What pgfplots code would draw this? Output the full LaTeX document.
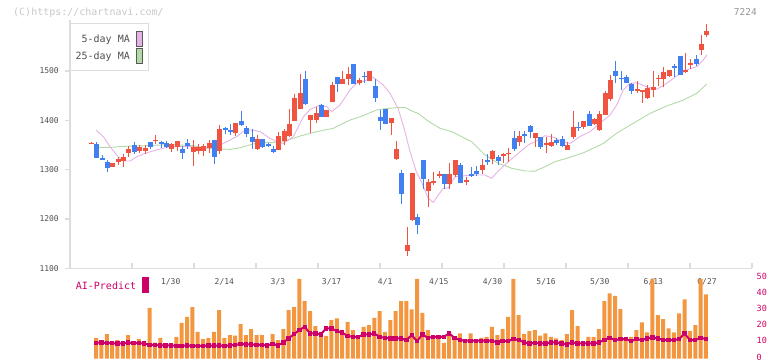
\documentclass[border=0pt]{standalone}
\usepackage{pgfplots}
\pgfplotsset{compat=1.18}
\usepackage{pgfplotstable}
\usepackage{fontspec}
\newfontfamily\mono{DejaVu Sans Mono}
\definecolor{candred}{RGB}{240,84,64}
\definecolor{candblue}{RGB}{64,128,240}
\definecolor{volor}{RGB}{242,150,64}
\definecolor{crim}{RGB}{204,0,102}
\definecolor{ma5}{RGB}{230,178,230}
\definecolor{ma25}{RGB}{178,218,166}
\definecolor{axgray}{RGB}{221,221,221}
\definecolor{txtgray}{RGB}{80,80,80}
\definecolor{hdrgray}{RGB}{200,200,200}
\definecolor{codegray}{RGB}{150,150,150}

\pgfplotstableread{
k o h l c
0 1352 1355 1351 1354
4 1306 1314 1305 1313
5 1316 1326 1309 1322
6 1318 1331 1306 1326
7 1334 1347 1326 1342
9 1338 1350 1333 1345
10 1338 1349 1332 1344
12 1359 1370 1351 1361
15 1342 1353 1336 1352
16 1345 1359 1338 1358
19 1336 1360 1308 1346
20 1338 1352 1332 1346
21 1338 1352 1328 1348
22 1344 1360 1333 1354
24 1338 1391 1332 1382
27 1375 1395 1369 1395
31 1341 1370 1340 1362
35 1340 1377 1340 1368
36 1359 1382 1350 1379
37 1368 1423 1366 1393
38 1399 1453 1398 1446
39 1423 1494 1423 1456
41 1401 1411 1374 1411
42 1401 1427 1395 1415
44 1407 1421 1407 1421
45 1438 1478 1438 1472
47 1474 1499 1474 1484
48 1483 1508 1472 1494
50 1476 1486 1472 1482
52 1480 1500 1480 1500
56 1395 1405 1370 1405
57 1321 1358 1319 1341
59 1135 1184 1125 1147
60 1198 1293 1196 1293
63 1257 1281 1225 1274
64 1273 1295 1269 1277
65 1288 1297 1283 1291
67 1270 1313 1261 1291
68 1289 1320 1286 1320
70 1276 1286 1269 1279
73 1299 1321 1292 1309
75 1322 1340 1311 1338
77 1328 1333 1313 1332
78 1332 1343 1316 1334
80 1355 1379 1347 1368
83 1364 1375 1345 1375
85 1351 1366 1334 1353
86 1347 1372 1346 1356
89 1340 1357 1340 1350
90 1366 1418 1362 1386
92 1386 1399 1382 1399
94 1392 1405 1390 1402
95 1380 1418 1378 1413
96 1411 1460 1410 1456
97 1443 1492 1440 1482
102 1460 1480 1456 1463
103 1458 1462 1436 1462
104 1446 1472 1443 1465
105 1462 1500 1448 1468
106 1484 1492 1470 1486
107 1484 1509 1468 1497
108 1490 1502 1487 1502
111 1497 1537 1495 1502
112 1514 1524 1504 1516
114 1543 1572 1533 1555
115 1572 1595 1568 1582
}\uptable

\pgfplotstableread{
k o h l c
1 1352 1357 1324 1324
2 1324 1330 1320 1321
3 1315 1319 1296 1304
8 1350 1357 1331 1336
11 1356 1357 1341 1346
13 1355 1359 1343 1351
14 1353 1358 1343 1345
17 1342 1347 1322 1334
18 1355 1362 1342 1348
23 1360 1360 1312 1326
25 1384 1387 1372 1380
26 1381 1392 1370 1377
28 1399 1419 1388 1390
29 1385 1388 1367 1373
30 1366 1382 1341 1357
32 1362 1362 1344 1345
33 1352 1355 1345 1348
34 1342 1347 1333 1336
40 1484 1500 1431 1433
43 1431 1433 1407 1407
46 1487 1487 1458 1474
49 1514 1514 1474 1474
51 1490 1498 1476 1488
53 1470 1484 1438 1446
54 1407 1421 1380 1399
55 1423 1423 1392 1392
58 1293 1299 1230 1251
61 1204 1210 1170 1188
62 1320 1320 1261 1281
66 1291 1291 1261 1271
69 1309 1313 1272 1272
71 1292 1306 1286 1287
72 1297 1307 1287 1291
74 1320 1331 1309 1315
76 1326 1330 1309 1318
79 1365 1378 1338 1342
81 1372 1378 1355 1370
82 1389 1391 1365 1377
84 1366 1367 1342 1345
87 1360 1364 1350 1353
88 1362 1368 1345 1347
91 1387 1397 1379 1385
93 1413 1418 1388 1389
98 1499 1521 1476 1490
99 1486 1501 1462 1484
100 1487 1492 1475 1476
101 1474 1475 1453 1460
109 1510 1514 1487 1507
110 1530 1531 1491 1492
113 1524 1533 1510 1514
}\downtable

\pgfplotstableread{
k v a
1 12.8 9.7
2 9.9 10.0
3 15.1 9.5
4 9.9 9.5
5 11.4 9.3
6 9.9 9.3
7 14.5 9.8
8 10.7 9.5
9 12.0 9.5
10 10.7 9.3
11 31.4 8.5
12 9.9 8.3
13 12.8 8.1
14 7.2 8.1
15 9.3 8.1
16 13.4 7.8
17 22.1 7.8
18 25.8 8.1
19 31.8 7.8
20 16.5 7.8
21 12.0 7.8
22 12.8 8.0
23 16.5 8.0
24 30.0 8.0
25 12.8 7.8
26 14.5 8.1
27 14.1 8.4
28 21.3 9.0
29 14.5 8.7
30 18.2 8.7
31 14.5 8.5
32 14.5 8.3
33 7.2 8.1
34 15.1 9.0
35 11.4 8.1
36 18.2 10.0
37 30.0 12.4
38 31.8 15.1
39 49.3 17.6
40 35.5 19.6
41 29.3 15.5
42 20.0 15.5
43 16.5 14.9
44 14.0 18.6
45 23.8 18.6
46 24.8 17.0
47 16.1 16.0
48 22.7 14.0
49 17.6 13.4
50 13.4 13.4
51 19.6 14.9
52 20.7 14.9
53 25.2 15.5
54 29.3 13.4
55 16.5 12.8
56 23.8 12.4
57 29.3 12.4
58 35.5 12.4
59 35.5 11.4
60 30.4 14.5
61 49.3 10.7
62 28.3 14.9
63 17.6 12.8
64 13.4 13.4
65 12.8 13.4
66 9.7 13.4
67 16.5 15.5
68 11.4 12.8
69 15.5 11.4
70 11.4 11.0
71 15.5 11.0
72 11.4 11.0
73 12.8 11.0
74 13.4 11.0
75 19.6 11.0
76 14.5 10.0
77 18.2 10.7
78 25.8 10.7
79 49.3 12.0
80 26.9 11.4
81 15.1 10.0
82 16.9 9.3
83 17.6 9.7
84 14.1 9.3
85 15.5 9.3
86 13.4 10.0
87 12.4 10.0
88 11.4 9.3
89 15.1 8.7
90 30.0 10.0
91 20.0 9.3
92 7.6 9.3
93 13.4 9.3
94 13.4 9.3
95 18.2 10.0
96 35.5 11.4
97 40.3 12.8
98 38.7 11.4
99 30.6 12.0
100 12.0 12.0
101 13.4 10.7
102 17.6 12.0
103 22.3 11.4
104 16.1 12.4
105 49.3 13.0
106 26.9 12.4
107 24.4 11.4
108 18.6 11.4
109 16.1 11.4
110 27.9 12.0
111 36.6 15.5
112 16.9 11.4
113 20.7 11.4
114 49.3 12.8
115 39.7 12.0
}\voltable

\begin{document}
\begin{tikzpicture}
\path[use as bounding box] (0pt,0pt) rectangle (772pt,-361pt);
\node[anchor=west, inner sep=0pt, text=hdrgray, font=\mono\fontsize{10}{12}\selectfont] at (13pt,-12.7pt) {(C)https://chartnavi.com/};
\node[anchor=east, inner sep=0pt, text=codegray, font=\mono\fontsize{9.5}{11}\selectfont] at (757pt,-12pt) {7224};

\begin{axis}[at={(70pt,-268.25pt)}, anchor=south west, scale only axis,
  width=682pt, height=248.25pt,
  xmin=-4.019, xmax=123.458, ymin=1100, ymax=1603.4,
  axis x line*=bottom, axis y line*=left,
  axis line style={draw=axgray, line width=1.5pt},
  xtick={-4.019,7.570,19.159,30.748,42.336,53.925,65.514,77.103,88.692,100.280,111.869,123.458},
  xticklabels={},
  ytick={1100,1200,1300,1400,1500},
  yticklabels={1100,1200,1300,1400,1500},
  xtick align=inside, ytick align=outside,
  major tick length=5pt,
  tick style={draw=axgray, line width=1.3pt},
  yticklabel style={font=\mono\fontsize{8}{9}\selectfont, text=txtgray, inner sep=0pt, xshift=-6pt},
  clip=true]
\addplot[ma25, line width=0.9pt, forget plot] coordinates {
(1.27,1345) (3.46,1345) (5.64,1347) (10.32,1348.5) (14.67,1351) (19.03,1348.5)
(22.15,1343) (25.89,1341) (27.76,1344.5) (30.24,1352) (31.5,1355) (33.36,1354.6)
(35.85,1356.6) (38.97,1368) (42.09,1377) (45.2,1383.8) (48.32,1400.6) (50.19,1407)
(53.31,1421) (55.18,1424) (57.66,1426) (58.6,1426) (60.15,1417.5) (61.08,1414)
(62.65,1400.6) (63.59,1394) (65.14,1383.8) (67.33,1377) (71.07,1356.6) (73.55,1329.7)
(76.04,1312.8) (78.54,1302.7) (81.03,1297.2) (82.9,1297) (84.77,1306) (86.64,1316)
(88.82,1323) (91.93,1334) (95.66,1353) (98.17,1374) (101.27,1394) (104.39,1414)
(107.51,1429) (110.62,1441) (113.12,1454.8) (115,1473.6)};
\addplot[ma5, line width=0.9pt, forget plot] coordinates {
(0.84,1380) (2.2,1367) (3.46,1346.5) (5.0,1326) (6.26,1317.5) (7.2,1317.5) (8.45,1326)
(10.0,1333) (12.19,1340) (14.67,1346.5) (19.03,1346.5) (21.53,1343) (23.4,1346.5)
(25.27,1356.6) (27.14,1367) (28.69,1380) (30.24,1380) (31.5,1377) (33.36,1363.5)
(34.6,1356.6) (35.85,1353) (37.72,1367) (39.6,1407) (40.84,1422) (42.71,1431)
(43.96,1427.6) (44.9,1417.5) (46.45,1431) (48.32,1461.5) (49.57,1475) (51.44,1481.8)
(52.67,1487) (54.54,1471.6) (55.79,1455) (57.3,1424) (58.4,1385) (59.5,1338) (60.7,1296)
(61.8,1272) (62.95,1242) (63.89,1233.7) (64.82,1248.5) (65.76,1262) (66.69,1263)
(67.94,1285.6) (69.81,1287.7) (71.68,1289) (73.55,1289) (74.8,1282.4) (76.04,1297.2)
(77.9,1316) (79.78,1333) (81.64,1350) (83.51,1360) (84.77,1368.8) (86.64,1364.7)
(87.57,1358.7) (89.44,1353) (91.31,1367) (93.18,1377) (95.05,1394) (96.92,1410.8)
(98.17,1431) (99.4,1461.5) (100.65,1475) (101.9,1476) (103.78,1468) (105.65,1463)
(107.51,1475) (109.38,1490) (111.25,1502) (113.12,1508.7) (114.36,1522.3) (115,1532.5)};
% wicks
\addplot[draw=none, mark=none, forget plot,
  error bars/.cd, y dir=both, y explicit, error mark=none,
  error bar style={draw=candred, line width=1pt}]
  table[x=k, y expr={(\thisrow{h}+\thisrow{l})/2}, y error expr={max((\thisrow{h}-\thisrow{l})/2,0.6)}]{\uptable};
\addplot[draw=none, mark=none, forget plot,
  error bars/.cd, y dir=both, y explicit, error mark=none,
  error bar style={draw=candblue, line width=1pt}]
  table[x=k, y expr={(\thisrow{h}+\thisrow{l})/2}, y error expr={max((\thisrow{h}-\thisrow{l})/2,0.6)}]{\downtable};
% bodies
\addplot[draw=none, mark=none, forget plot,
  error bars/.cd, y dir=both, y explicit, error mark=none,
  error bar style={draw=candred, line width=5pt}]
  table[x=k, y expr={(\thisrow{o}+\thisrow{c})/2}, y error expr={max(abs(\thisrow{c}-\thisrow{o})/2,1)}]{\uptable};
\addplot[draw=none, mark=none, forget plot,
  error bars/.cd, y dir=both, y explicit, error mark=none,
  error bar style={draw=candblue, line width=5pt}]
  table[x=k, y expr={(\thisrow{o}+\thisrow{c})/2}, y error expr={max(abs(\thisrow{c}-\thisrow{o})/2,1)}]{\downtable};
\end{axis}

% legend box
\draw[draw=axgray, fill=white, line width=1pt] (70pt,-24pt) rectangle (148.3pt,-71pt);
\node[anchor=east, inner sep=0pt, text=txtgray, font=\mono\fontsize{10}{12}\selectfont] at (130pt,-40pt) {5-day MA};
\node[anchor=east, inner sep=0pt, text=txtgray, font=\mono\fontsize{10}{12}\selectfont] at (130pt,-57pt) {25-day MA};
\draw[draw=black!65, fill=ma5, line width=0.8pt] (136.5pt,-31.5pt) rectangle (142.3pt,-46.3pt);
\draw[draw=black!65, fill=ma25, line width=0.8pt] (136.5pt,-48.5pt) rectangle (142.3pt,-63.3pt);

% lower panel labels
\node[anchor=west, inner sep=0pt, text=crim, font=\mono\fontsize{10}{12}\selectfont] at (75.7pt,-286pt) {AI-Predict};
\fill[crim] (142.3pt,-277.3pt) rectangle (149pt,-292.7pt);
\begin{scope}[every node/.style={inner sep=0pt, text=txtgray, font=\mono\fontsize{8}{9}\selectfont}]
\node at (170.7pt,-282.3pt) {1/30};
\node at (224.33pt,-282.3pt) {2/14};
\node at (277.96pt,-282.3pt) {3/3};
\node at (331.59pt,-282.3pt) {3/17};
\node at (385.22pt,-282.3pt) {4/1};
\node at (438.85pt,-282.3pt) {4/15};
\node at (492.48pt,-282.3pt) {4/30};
\node at (546.11pt,-282.3pt) {5/16};
\node at (599.74pt,-282.3pt) {5/30};
\node at (653.37pt,-282.3pt) {6/13};
\node at (707.0pt,-282.3pt) {6/27};
\end{scope}

\begin{axis}[at={(70pt,-358.5pt)}, anchor=south west, scale only axis,
  width=682pt, height=80.8pt,
  xmin=-4.019, xmax=123.458, ymin=0, ymax=50,
  hide x axis, axis y line*=right,
  axis line style={draw=none},
  ytick={0,10,20,30,40,50}, yticklabels={0,10,20,30,40,50},
  major tick length=0pt,
  yticklabel style={font=\mono\fontsize{8.5}{10}\selectfont, text=crim, anchor=west, inner sep=0pt, xshift=4.5pt, yshift=1.5pt},
  clip=false]
\addplot[ybar, bar width=4pt, fill=volor, draw=none, forget plot] table[x expr={\thisrow{k}-0.15}, y=v]{\voltable};
\addplot[crim, line width=2pt, mark=square*, mark size=1.2pt, mark options={fill=crim, draw=crim}, forget plot] table[x expr={\thisrow{k}-0.15}, y=a]{\voltable};
\end{axis}
\end{tikzpicture}
\end{document}
